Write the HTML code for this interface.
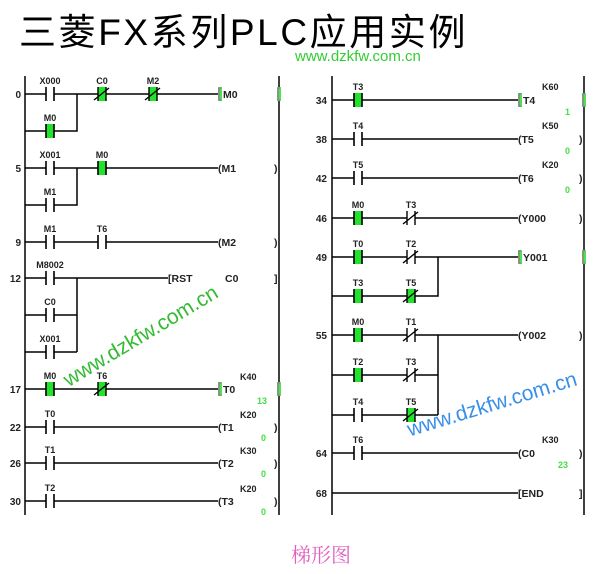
<!DOCTYPE html>
<html><head><meta charset="utf-8"><style>
html,body{margin:0;padding:0;background:#fff;width:603px;height:574px;overflow:hidden}
svg{display:block}
.l{font-family:"Liberation Sans",sans-serif;font-weight:bold;font-size:9px;fill:#222}
.n{font-family:"Liberation Sans",sans-serif;font-weight:bold;font-size:10px;fill:#222}
.c{font-family:"Liberation Sans",sans-serif;font-weight:bold;font-size:10.5px;fill:#222}
.g{font-family:"Liberation Sans",sans-serif;font-weight:bold;font-size:9px;fill:#4d4}
</style></head><body>
<svg width="603" height="574" viewBox="0 0 603 574" xmlns="http://www.w3.org/2000/svg">
<defs>
<g id="no"><rect x="-3.5" y="-2" width="7" height="4" fill="#fff"/><path d="M-4,-7V7M4,-7V7" stroke="#000" stroke-width="1.6"/></g>
<g id="nog"><rect x="-4.5" y="-7" width="9" height="14" fill="#22e22e"/><path d="M-4,-7V7M4,-7V7" stroke="#000" stroke-width="1.6"/></g>
<g id="nc"><rect x="-3.5" y="-2" width="7" height="4" fill="#fff"/><path d="M-4,-7V7M4,-7V7M-8,6L7,-6" stroke="#000" stroke-width="1.4" fill="none"/></g>
<g id="ncg"><rect x="-4.5" y="-7" width="9" height="14" fill="#22e22e"/><path d="M-4,-7V7M4,-7V7M-8,6L7,-6" stroke="#000" stroke-width="1.4" fill="none"/></g>
<g id="gb"><rect x="-2" y="-7" width="4" height="14" fill="#5d5"/><path d="M1,-6H-1V6H1" stroke="#a060a0" stroke-width="1" fill="none"/></g>
</defs>
<text x="19" y="45" letter-spacing="2.6" font-family="'Liberation Sans','Noto Sans CJK SC',sans-serif" font-size="37" fill="#000">三菱FX系列PLC应用实例</text>
<text x="295" y="61" font-family="'Liberation Sans',sans-serif" font-size="15" fill="#33cc33">www.dzkfw.com.cn</text>

<g stroke="#000" stroke-width="1.5" fill="none">
<path d="M25,76V515M279,76V515M332,76V515M584,76V515"/>
<path d="M25,94H218M25,131H77V94"/>
<path d="M25,168H218M25,205H77V168"/>
<path d="M25,242H218"/>
<path d="M25,278H168M77,278V352M25,315H77M25,352H77"/>
<path d="M25,389H218M25,427H218M25,463H218M25,501H218"/>
<path d="M332,100H518M332,139H518M332,178H518M332,218H518"/>
<path d="M332,257H518M332,296H438V257"/>
<path d="M332,335H518M438,335V415M332,375H438M332,415H438"/>
<path d="M332,453H518M332,493H518"/>
</g>

<use href="#no" x="50" y="94"/><use href="#nog" x="50" y="131"/><use href="#ncg" x="102" y="94"/><use href="#ncg" x="153" y="94"/>
<use href="#no" x="50" y="168"/><use href="#no" x="50" y="205"/><use href="#nog" x="102" y="168"/>
<use href="#no" x="50" y="242"/><use href="#no" x="102" y="242"/>
<use href="#no" x="50" y="278"/><use href="#no" x="50" y="315"/><use href="#no" x="50" y="352"/>
<use href="#nog" x="50" y="389"/><use href="#ncg" x="102" y="389"/>
<use href="#no" x="50" y="427"/><use href="#no" x="50" y="463"/><use href="#no" x="50" y="501"/>
<use href="#gb" x="220" y="94"/><use href="#gb" x="279" y="94"/>
<use href="#gb" x="220" y="389"/><use href="#gb" x="279" y="389"/>
<use href="#nog" x="358" y="100"/><use href="#no" x="358" y="139"/><use href="#no" x="358" y="178"/>
<use href="#nog" x="358" y="218"/><use href="#nc" x="411" y="218"/>
<use href="#nog" x="358" y="257"/><use href="#nc" x="411" y="257"/>
<use href="#nog" x="358" y="296"/><use href="#ncg" x="411" y="296"/>
<use href="#nog" x="358" y="335"/><use href="#nc" x="411" y="335"/>
<use href="#nog" x="358" y="375"/><use href="#nc" x="411" y="375"/>
<use href="#no" x="358" y="415"/><use href="#ncg" x="411" y="415"/>
<use href="#no" x="358" y="453"/>
<use href="#gb" x="520" y="100"/><use href="#gb" x="584" y="100"/>
<use href="#gb" x="520" y="257"/><use href="#gb" x="584" y="257"/>

<g class="l" text-anchor="middle">
<text x="50" y="84">X000</text><text x="102" y="84">C0</text><text x="153" y="84">M2</text><text x="50" y="121">M0</text>
<text x="50" y="158">X001</text><text x="102" y="158">M0</text><text x="50" y="195">M1</text>
<text x="50" y="232">M1</text><text x="102" y="232">T6</text>
<text x="50" y="268">M8002</text><text x="50" y="305">C0</text><text x="50" y="342">X001</text>
<text x="50" y="379">M0</text><text x="102" y="379">T6</text>
<text x="50" y="417">T0</text><text x="50" y="453">T1</text><text x="50" y="491">T2</text>
<text x="358" y="90">T3</text><text x="358" y="129">T4</text><text x="358" y="168">T5</text>
<text x="358" y="208">M0</text><text x="411" y="208">T3</text>
<text x="358" y="247">T0</text><text x="411" y="247">T2</text>
<text x="358" y="286">T3</text><text x="411" y="286">T5</text>
<text x="358" y="325">M0</text><text x="411" y="325">T1</text>
<text x="358" y="365">T2</text><text x="411" y="365">T3</text>
<text x="358" y="405">T4</text><text x="411" y="405">T5</text>
<text x="358" y="443">T6</text>
</g>
<g class="n" text-anchor="end">
<text x="21" y="98">0</text><text x="21" y="172">5</text><text x="21" y="246">9</text><text x="21" y="282">12</text>
<text x="21" y="393">17</text><text x="21" y="431">22</text><text x="21" y="467">26</text><text x="21" y="505">30</text>
<text x="327" y="104">34</text><text x="327" y="143">38</text><text x="327" y="182">42</text><text x="327" y="222">46</text>
<text x="327" y="261">49</text><text x="327" y="339">55</text><text x="327" y="457">64</text><text x="327" y="497">68</text>
</g>
<g class="c">
<text x="223" y="98">M0</text>
<text x="218" y="172">(M1</text><text x="218" y="246">(M2</text>
<text x="168" y="282">[RST</text><text x="225" y="282">C0</text><text x="274" y="282">]</text>
<text x="223" y="393">T0</text>
<text x="218" y="431">(T1</text><text x="218" y="467">(T2</text><text x="218" y="505">(T3</text>
<text x="274" y="172">)</text><text x="274" y="246">)</text><text x="274" y="431">)</text><text x="274" y="467">)</text><text x="274" y="505">)</text>
<text x="523" y="104">T4</text><text x="518" y="143">(T5</text><text x="518" y="182">(T6</text><text x="518" y="222">(Y000</text>
<text x="523" y="261">Y001</text><text x="518" y="339">(Y002</text><text x="518" y="457">(C0</text><text x="518" y="497">[END</text>
<text x="579" y="143">)</text><text x="579" y="182">)</text><text x="579" y="222">)</text><text x="579" y="339">)</text><text x="579" y="457">)</text><text x="579" y="497">]</text>
</g>
<g class="l">
<text x="240" y="380">K40</text><text x="240" y="418">K20</text><text x="240" y="454">K30</text><text x="240" y="492">K20</text>
<text x="542" y="90">K60</text><text x="542" y="129">K50</text><text x="542" y="168">K20</text><text x="542" y="443">K30</text>
</g>
<g class="g">
<text x="257" y="404">13</text><text x="261" y="441">0</text><text x="261" y="477">0</text><text x="261" y="515">0</text>
<text x="565" y="115">1</text><text x="565" y="154">0</text><text x="565" y="193">0</text><text x="558" y="468">23</text>
</g>

<text x="140" y="343" text-anchor="middle" transform="rotate(-31 140 335)" font-family="'Liberation Sans',sans-serif" font-size="21" fill="#33bb33">www.dzkfw.com.cn</text>
<text x="492" y="411" text-anchor="middle" transform="rotate(-17 492 404)" font-family="'Liberation Sans',sans-serif" font-size="21" fill="#3a8fe8">www.dzkfw.com.cn</text>
<text x="321" y="562" text-anchor="middle" font-family="'Liberation Serif','Noto Serif CJK SC',serif" font-size="20" fill="#e060c0">梯形图</text>
</svg>
</body></html>
